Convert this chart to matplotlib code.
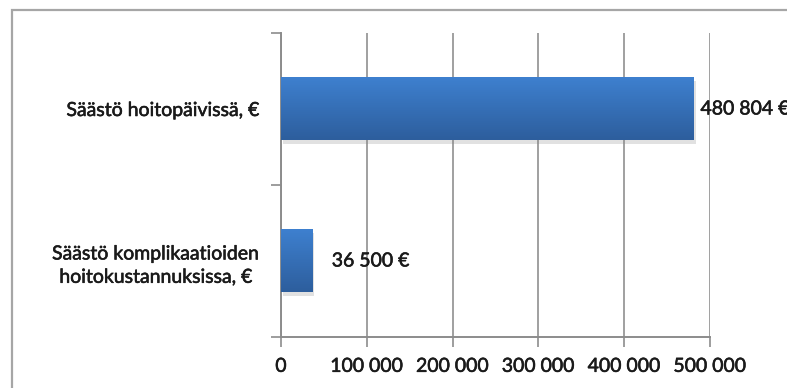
import numpy as np
import matplotlib.pyplot as plt
import matplotlib.patheffects as pe
from matplotlib.patches import Rectangle
from matplotlib.colors import LinearSegmentedColormap

categories = ["Säästö hoitopäivissä, €",
              "Säästö komplikaatioiden\nhoitokustannuksissa, €"]
values = [480804, 36500]
xticks = [0, 100000, 200000, 300000, 400000, 500000]

plt.rcParams['font.family'] = ['Lato', 'DejaVu Sans']
FS = 14
# a thin stroke to mimic the heavier, blurred text of the original
bold = [pe.withStroke(linewidth=0.4, foreground='#1a1a1a')]

fig = plt.figure(figsize=(7.87, 3.88), dpi=100)
ax = fig.add_axes([281 / 787, 1 - 337 / 388, (710 - 281) / 787, (337 - 33) / 388])

# outer chart-area border (runs off right and bottom edge)
fig.patches.append(Rectangle((12 / 787, -0.1), 1.2, 1 - 10 / 388 + 0.1,
                             transform=fig.transFigure, fill=False,
                             edgecolor='#a6a6a6', linewidth=1.6))

y = np.arange(len(categories))
bars = ax.barh(y, values, height=0.41, color='#3570bb', zorder=3,
               path_effects=[pe.SimplePatchShadow(offset=(1.5, -2.5), shadow_rgbFace='#888888', alpha=0.25),
                             pe.Normal()])

# vertical gradient fill on each bar
cmap = LinearSegmentedColormap.from_list('bar', ['#3e80cf', '#2d5e9d'])
grad = np.linspace(0, 1, 100).reshape(-1, 1)
for b in bars:
    x0, y0, w, h = b.get_x(), b.get_y(), b.get_width(), b.get_height()
    ax.imshow(grad, cmap=cmap, aspect='auto', extent=[x0, x0 + w, y0 + h, y0],
              zorder=4, interpolation='bilinear')

offsets = [5, 14]
for yi, v, off in zip(y, values, offsets):
    ax.annotate(f"{v:,} €".replace(",", " "), xy=(v, yi), xytext=(off, 0),
                textcoords='offset points', va='center', ha='left',
                fontsize=FS, color='#1a1a1a', annotation_clip=False,
                path_effects=bold)

ax.set_xlim(0, 500000)
ax.set_ylim(1.5, -0.5)
ax.set_xticks(xticks)
ax.set_xticklabels([f"{t:,}".replace(",", " ") for t in xticks], fontsize=FS,
                   color='#1a1a1a', path_effects=bold)
ax.set_yticks(y)
ax.set_yticklabels(categories, fontsize=FS, multialignment='center',
                   linespacing=1.45, color='#1a1a1a', path_effects=bold)
ax.set_yticks([-0.5, 0.5, 1.5], minor=True)
ax.tick_params(axis='y', which='major', length=0, pad=15)
ax.tick_params(axis='y', which='minor', length=7, color='#8c8c8c', width=1.2)
ax.tick_params(axis='x', length=7, color='#8c8c8c', width=1.2, pad=8)

ax.grid(axis='x', color='#a0a0a0', linewidth=1.4, zorder=0)
ax.set_axisbelow(True)
for s in ['top', 'right']:
    ax.spines[s].set_visible(False)
for s in ['left', 'bottom']:
    ax.spines[s].set_color('#8c8c8c')
    ax.spines[s].set_linewidth(1.4)

fig.savefig('out.png', dpi=100)
